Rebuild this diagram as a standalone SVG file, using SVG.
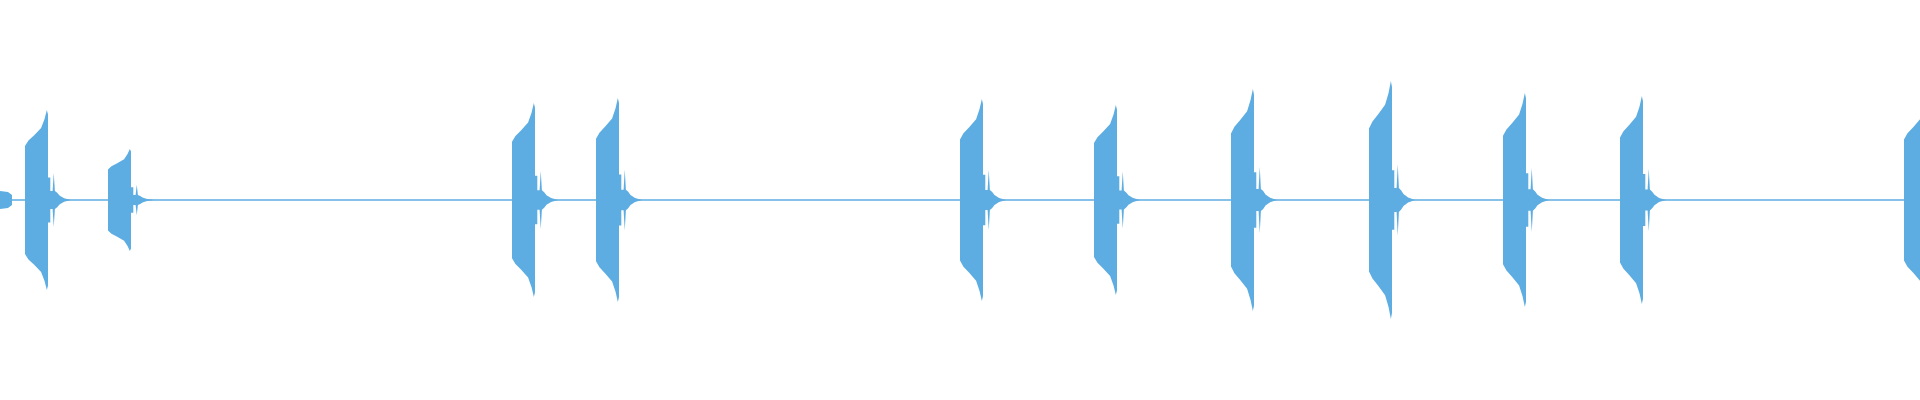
<svg xmlns="http://www.w3.org/2000/svg" width="1920" height="400" viewBox="0 0 1920 400">
<style>.w{fill:#5dade2}.b{stroke:#5dade2;stroke-width:1.6}</style>
<defs>
<path id="burst" d="M0,0 L0,-0.6 L3,-0.66 L8,-0.72 L14,-0.8 L17,-0.9 L19,-1 L20,-0.95 L20,-0.25 L22,-0.25 L22,-0.1 L24,-0.1 L25,-0.3 L26,-0.1 L28,-0.08 L30,-0.05 L34,-0.02 L40,0 L34,0.02 L30,0.05 L28,0.08 L26,0.1 L25,0.3 L24,0.1 L22,0.1 L22,0.25 L20,0.25 L20,0.95 L19,1 L17,0.9 L14,0.8 L8,0.72 L3,0.66 L0,0.6 Z"/>
</defs>
<rect width="1920" height="400" fill="#fff"/>
<line class="b" x1="0" y1="200" x2="1920" y2="200"/>
<path class="w" d="M0,191 L8,192 L12,195 L12,205 L8,208 L0,209 Z"/>
<use class="w" href="#burst" transform="translate(25,200) scale(1.15,90)"/>
<use class="w" href="#burst" transform="translate(108,200) scale(1.15,51)"/>
<use class="w" href="#burst" transform="translate(512,200) scale(1.15,97)"/>
<use class="w" href="#burst" transform="translate(596,200) scale(1.15,102)"/>
<use class="w" href="#burst" transform="translate(960,200) scale(1.15,101)"/>
<use class="w" href="#burst" transform="translate(1094,200) scale(1.15,95)"/>
<use class="w" href="#burst" transform="translate(1231,200) scale(1.15,111)"/>
<use class="w" href="#burst" transform="translate(1369,200) scale(1.15,119)"/>
<use class="w" href="#burst" transform="translate(1503,200) scale(1.15,107)"/>
<use class="w" href="#burst" transform="translate(1620,200) scale(1.15,104)"/>
<use class="w" href="#burst" transform="translate(1904,200) scale(1.15,101)"/>
</svg>
